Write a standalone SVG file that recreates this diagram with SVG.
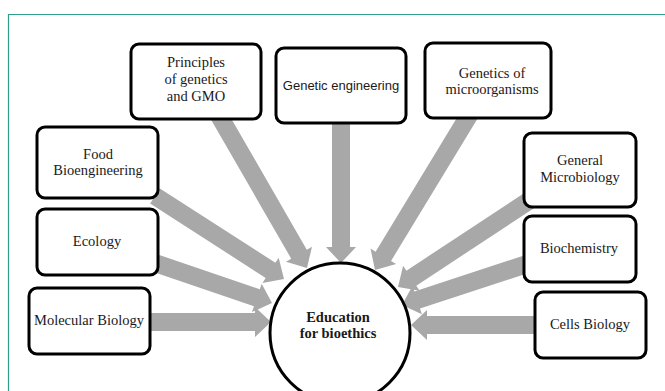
<svg xmlns="http://www.w3.org/2000/svg" width="665" height="391" viewBox="0 0 665 391">
<style>
.box{fill:#fff;stroke:#000;stroke-width:3}
.arr{fill:#a8a8a8}
.t{font-family:"Liberation Serif","Times New Roman",serif;font-size:14.5px;fill:#1a1a1a;text-anchor:middle}
.s{font-family:"Liberation Sans",Arial,sans-serif;font-size:13px;fill:#1a1a1a;text-anchor:middle}
.b{font-family:"Liberation Serif","Times New Roman",serif;font-size:14.5px;font-weight:bold;fill:#1a1a1a;text-anchor:middle}
</style>
<rect width="665" height="391" fill="#fff"/>
<path d="M8.5 391V14.5H665" fill="none" stroke="#2e9e8a" stroke-width="1.2"/>
<g id="connectors">
<polygon class="arr" points="209.20,116.50 291.20,258.64 286.01,261.64 307,268 311.99,246.64 306.80,249.64 224.80,107.50"/>
<polygon class="arr" points="332,115 332,247 326,247 341,263 356,247 350,247 350,115"/>
<polygon class="arr" points="463.31,107.33 375.62,251.66 370.49,248.54 375,270 396.13,264.12 391.00,261.00 478.69,116.67"/>
<polygon class="arr" points="525.05,192.49 406.41,270.69 403.11,265.68 398,287 419.61,290.72 416.31,285.71 534.95,207.51"/>
<polygon class="arr" points="527.19,254.45 414.39,291.46 412.52,285.76 402,305 421.88,314.26 420.01,308.56 532.81,271.55"/>
<polygon class="arr" points="540,316 427,316 427,310 411,325 427,340 427,334 540,334"/>
<polygon class="arr" points="150.13,203.57 265.67,277.91 262.42,282.96 284,279 278.66,257.72 275.41,262.77 159.87,188.43"/>
<polygon class="arr" points="149.09,270.52 253.95,306.35 252.01,312.03 272,303 261.71,283.63 259.77,289.31 154.91,253.48"/>
<polygon class="arr" points="145,313 255,313 255,307 271,322 255,337 255,331 145,331"/>
</g>
<g id="principles">
<rect class="box" x="131" y="44" width="130" height="75" rx="8"/>
<text class="t" x="196" y="67">Principles</text>
<text class="t" x="196" y="84">of genetics</text>
<text class="t" x="196" y="101">and GMO</text>
</g>
<g id="genetic-engineering">
<rect class="box" x="276" y="48" width="130" height="75" rx="8"/>
<text class="s" x="341" y="90">Genetic engineering</text>
</g>
<g id="genetics-micro">
<rect class="box" x="425" y="43" width="126" height="75" rx="8"/>
<text class="t" x="492" y="78">Genetics of</text>
<text class="t" x="492" y="94">microorganisms</text>
</g>
<g id="food">
<rect class="box" x="37" y="127" width="121" height="71" rx="8"/>
<text class="t" x="98" y="159">Food</text>
<text class="t" x="98" y="175">Bioengineering</text>
</g>
<g id="ecology">
<rect class="box" x="37" y="209" width="121" height="66" rx="8"/>
<text class="t" x="97" y="246">Ecology</text>
</g>
<g id="molecular">
<rect class="box" x="29" y="288" width="121" height="66" rx="8"/>
<text class="t" x="89" y="325">Molecular Biology</text>
</g>
<g id="general-micro">
<rect class="box" x="524" y="133" width="112" height="74" rx="8"/>
<text class="t" x="580" y="165">General</text>
<text class="t" x="580" y="182">Microbiology</text>
</g>
<g id="biochemistry">
<rect class="box" x="524" y="216" width="112" height="66" rx="8"/>
<text class="t" x="579" y="253">Biochemistry</text>
</g>
<g id="cells">
<rect class="box" x="535" y="292" width="111" height="66" rx="8"/>
<text class="t" x="590" y="329">Cells Biology</text>
</g>
<g id="education">
<circle cx="340" cy="333" r="70" fill="#fff" stroke="#000" stroke-width="3"/>
<text class="b" x="338" y="322">Education</text>
<text class="b" x="338" y="338">for bioethics</text>
</g>
</svg>
